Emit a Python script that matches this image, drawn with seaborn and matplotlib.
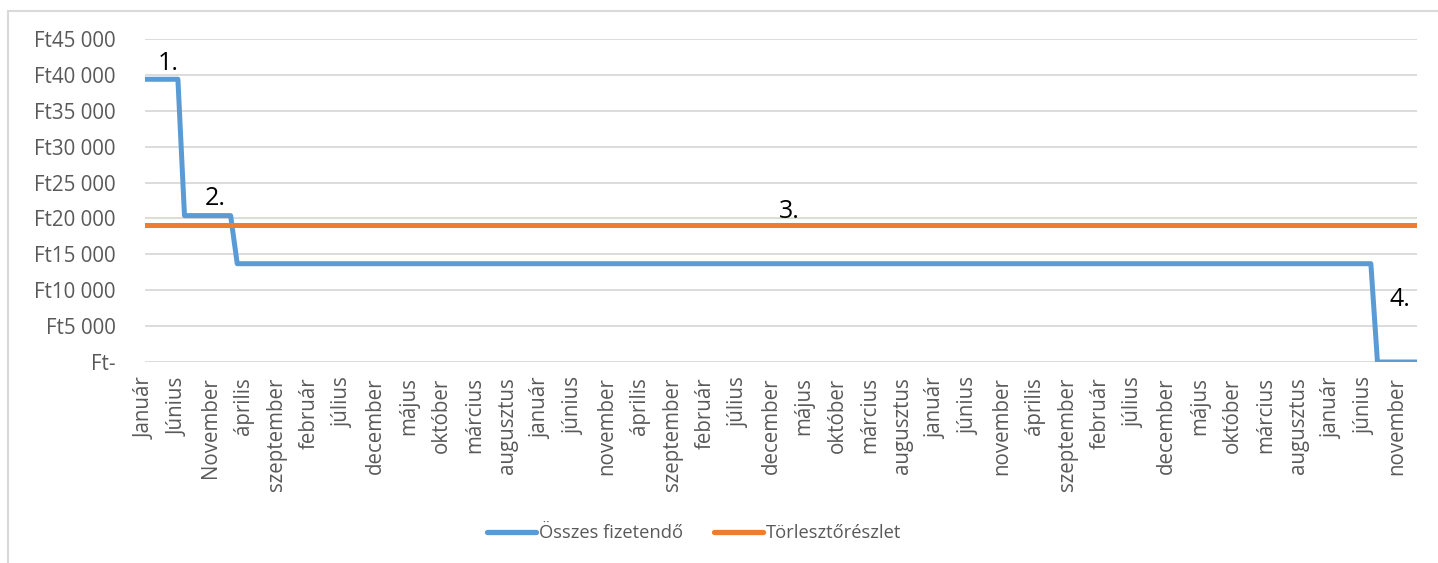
import numpy as np
import pandas as pd
import matplotlib
matplotlib.use("Agg")
import matplotlib.pyplot as plt
from matplotlib.ticker import FuncFormatter
from matplotlib.patches import Rectangle
import seaborn as sns

# ---- data ----
series_names = ["Összes fizetendő", "Törlesztőrészlet"]
n_months = 194
# Összes fizetendő: step levels and how many months each level lasts
total_levels = [39400, 20400, 13700, 0]
total_months = [6, 8, 173, 7]
# Törlesztőrészlet: constant instalment
instalment = 19100

tick_labels = ["Január", "Június", "November", "április", "szeptember", "február",
               "július", "december", "május", "október", "március", "augusztus",
               "január", "június", "november", "április", "szeptember", "február",
               "július", "december", "május", "október", "március", "augusztus",
               "január", "június", "november", "április", "szeptember", "február",
               "július", "december", "május", "október", "március", "augusztus",
               "január", "június", "november"]
annotations = ["1.", "2.", "3.", "4."]
annot_x = [3.6, 10.7, 97.7, 190.4]
annot_y = [39800, 21100, 19300, 6900]

# ---- build table ----
month = np.arange(n_months)
total = np.repeat(total_levels, total_months)
inst = np.full(n_months, instalment)
df = pd.DataFrame({
    "month": np.concatenate([month, month]),
    "value": np.concatenate([total, inst]),
    "series": [series_names[0]] * n_months + [series_names[1]] * n_months,
})

sns.set_theme(style="white")
plt.rcParams["font.family"] = ["Open Sans", "DejaVu Sans"]

fig = plt.figure(figsize=(14.38, 5.63), dpi=100)
ax = fig.add_axes([0.1008, 0.357, 0.8846, 0.5736])

palette = {series_names[0]: "#5B9BD5", series_names[1]: "#ED7D31"}
sns.lineplot(data=df, x="month", y="value", hue="series", palette=palette,
             linewidth=3.6, ax=ax, legend=True, sort=False)
for ln in ax.lines:
    ln.set_solid_capstyle("round")
    ln.set_solid_joinstyle("round")
ax.lines[1].set_zorder(3)
ax.lines[0].set_zorder(2)

ax.set_xlim(0, n_months - 1)
ax.set_ylim(0, 45000)
ax.set_yticks(np.arange(0, 45001, 5000))
ax.yaxis.set_major_formatter(FuncFormatter(
    lambda v, p: "Ft-" if v == 0 else "Ft" + f"{int(v):,}".replace(",", " ")))
ax.set_xticks(np.arange(0, n_months, 5)[:len(tick_labels)])
ax.set_xticklabels(tick_labels, rotation=90, va="top", ha="center")
ax.tick_params(axis="y", length=0, pad=21, labelsize=14.8, labelcolor="#595959")
ax.tick_params(axis="x", length=0, pad=11, labelsize=14.8, labelcolor="#595959")
ax.grid(axis="y", color="#d9d9d9", linewidth=1.3)
ax.set_axisbelow(True)
for s in ax.spines.values():
    s.set_visible(False)
ax.set_xlabel("")
ax.set_ylabel("")

for t, x, y in zip(annotations, annot_x, annot_y):
    ax.text(x, y, t, ha="center", va="bottom", fontsize=18, color="black", zorder=5)

handles, labels = ax.get_legend_handles_labels()
leg = ax.legend(handles, labels, loc="center", ncol=2, frameon=False, fontsize=13.2,
                handlelength=2.66, handletextpad=0.17, columnspacing=1.7)
leg.set_bbox_to_anchor((694 / 1438, 1 - 533 / 563), transform=fig.transFigure)
for txt in leg.get_texts():
    txt.set_color("#595959")
for h in leg.get_lines():
    h.set_linewidth(3.8)
    h.set_solid_capstyle("round")

# chart border (partly outside the canvas)
fig.patches.append(Rectangle((8 / 1438, -0.2), 1.5, 1.2 - 11 / 563,
                             transform=fig.transFigure, fill=False,
                             edgecolor="#d9d9d9", linewidth=1.5, zorder=0))

fig.savefig("out.png", dpi=100, facecolor="white")
